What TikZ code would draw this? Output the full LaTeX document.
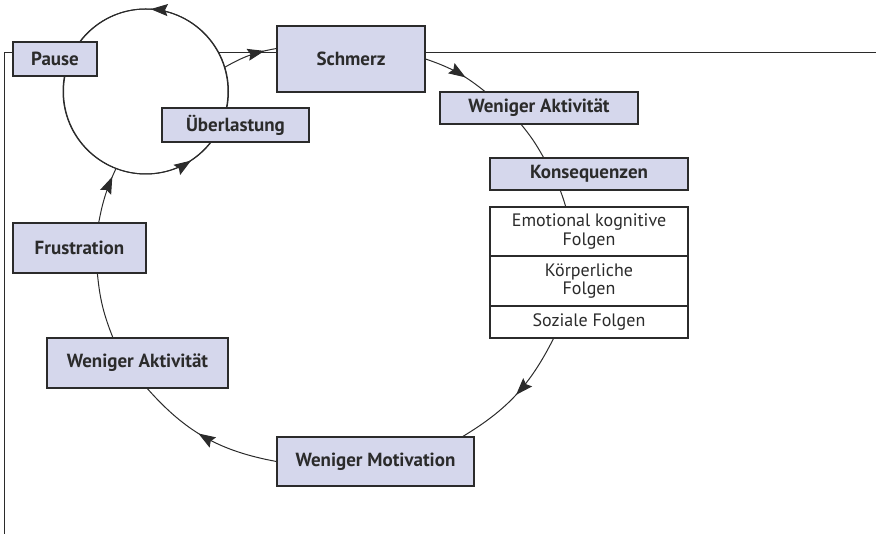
\documentclass[tikz,border=0pt]{standalone}
\usepackage{fontspec}
\setmainfont{PT Sans}
\usetikzlibrary{arrows.meta,decorations.markings}
\definecolor{boxfill}{HTML}{D5D7EC}
\definecolor{ink}{HTML}{2B2B2B}
\begin{document}
\begin{tikzpicture}[x=1pt,y=1pt,
  >={Stealth[length=17pt,width=12pt,inset=2.5pt]},
  box/.style={draw=ink, line width=1.1pt, fill=boxfill, inner sep=0pt, font=\fontsize{19}{19}\selectfont\bfseries, text=ink, align=center},
  wbox/.style={draw=ink, line width=1.1pt, fill=white, inner sep=0pt, font=\fontsize{18}{18.7}\selectfont, text=ink, align=center},
  conn/.style={draw=ink, line width=1pt},
  midarrow/.style={postaction={decorate}, decoration={markings, mark=at position #1 with {\arrow[ink]{>}}}}
]
\useasboundingbox (0,0) rectangle (876,534);
% frame line
\draw[conn] (4,0) -- (4,481) -- (876,481);
% small circle
\node[circle, draw=ink, line width=1pt, fill=white, minimum size=165pt, inner sep=0pt] (sc) at (145.5,442.5) {};
\draw[conn, postaction={decorate}, decoration={markings,
   mark=at position 0.241 with {\arrow[ink]{>}},
   mark=at position 0.842 with {\arrow[ink]{>}}}]
   (sc.east) arc[start angle=0, end angle=360, radius=82.5];
% nodes
\node[box, minimum width=84pt, minimum height=34pt] (pause) at (55,475) {Pause};
\node[box, minimum width=148pt, minimum height=66pt] (schmerz) at (351,475) {Schmerz};
\node[box, minimum width=147pt, minimum height=34pt] (ueber) at (235.5,409) {Überlastung};
\node[box, minimum width=198pt, minimum height=32pt] (wa1) at (539,426) {Weniger Aktivität};
\node[box, minimum width=198pt, minimum height=32pt] (kons) at (589,360) {Konsequenzen};
\node[wbox, minimum width=198pt, minimum height=49pt] (emo) at (589,302.5) {Emotional kognitive\\Folgen};
\node[wbox, minimum width=198pt, minimum height=50pt] (koerp) at (589,253) {Körperliche\\Folgen};
\node[wbox, minimum width=198pt, minimum height=32pt] (soz) at (589,212) {Soziale Folgen};
\node[box, minimum width=197pt, minimum height=49pt] (wm) at (375.5,72.5) {Weniger Motivation};
\node[box, minimum width=181pt, minimum height=50pt] (wa2) at (137.5,171) {Weniger Aktivität};
\node[box, minimum width=133pt, minimum height=50pt] (frust) at (79.5,286) {Frustration};
% connectors
\draw[conn, midarrow=0.78] (sc.17) to[bend left=10] (schmerz.172);
\draw[conn, midarrow=0.65] (schmerz.east) to[bend left=10] (wa1.163);
\draw[conn] (wa1.223) to[bend left=5] (kons.160);
\draw[conn] (kons.210) to[bend left=2] (emo.133);
\draw[conn, midarrow=0.5] (soz.205) to[bend left=16] (wm.16);
\draw[conn, midarrow=0.55] (wm.west) to[bend left=19] (wa2.291);
\draw[conn] (wa2.134) to[bend left=8] (frust.305);
\draw[conn, midarrow=0.85] (frust.53) to[bend left=7] (sc.249);
\end{tikzpicture}
\end{document}
